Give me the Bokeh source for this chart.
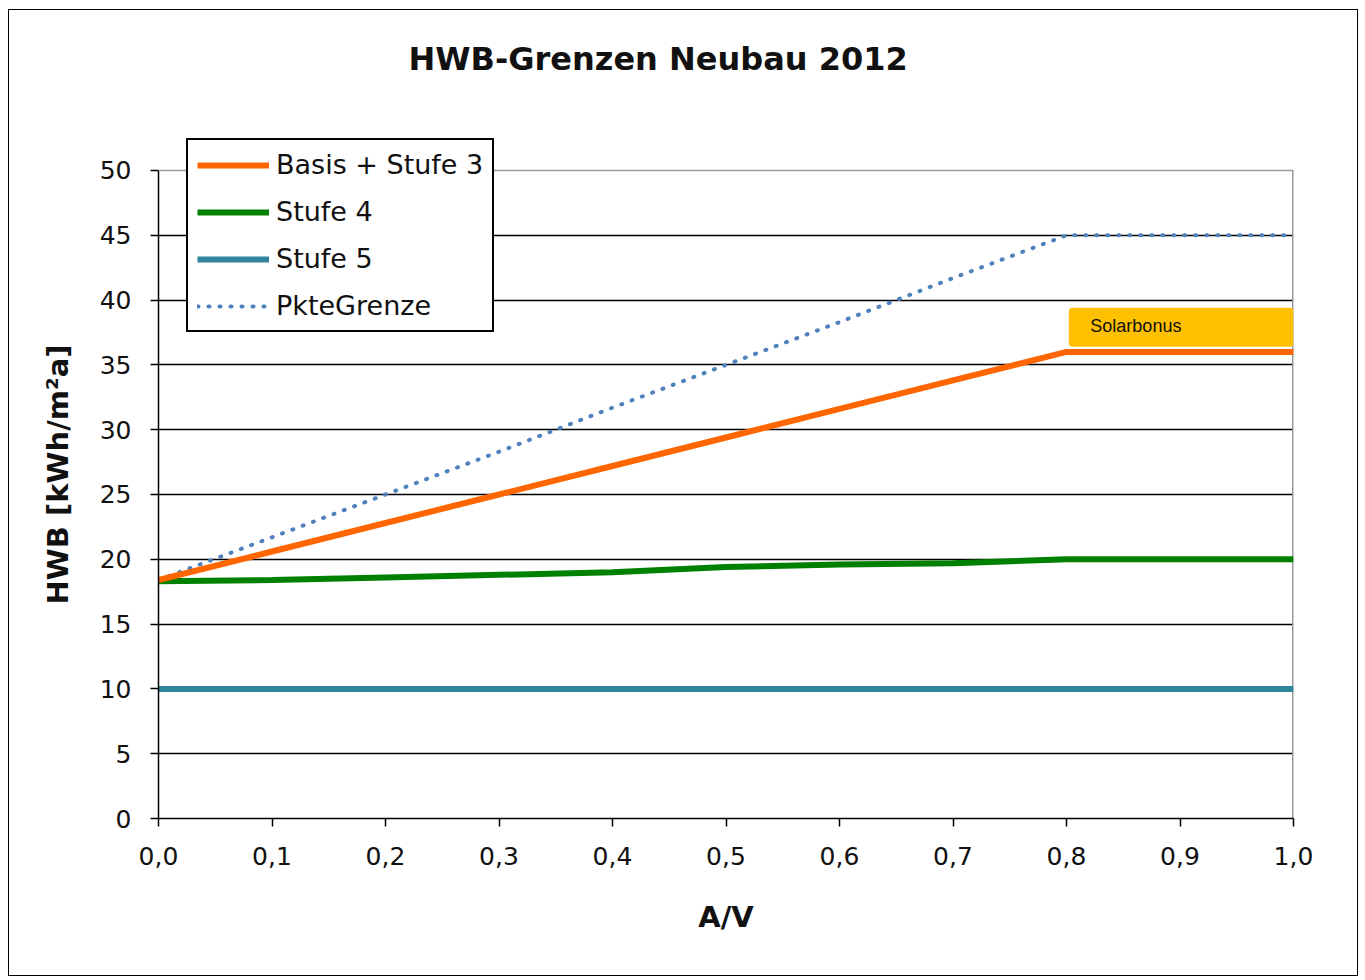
from bokeh.plotting import figure
from bokeh.models import Range1d, FixedTicker, Legend, LegendItem, Label, BoxAnnotation, Span, Title
from bokeh.embed import file_html
from bokeh.resources import INLINE

x_vals = [0.0, 0.1, 0.2, 0.3, 0.4, 0.5, 0.6, 0.7, 0.8, 0.9, 1.0]
basis_stufe3 = [18.4, 20.6, 22.8, 25.0, 27.2, 29.4, 31.6, 33.8, 36.0, 36.0, 36.0]
stufe4 = [18.3, 18.4, 18.6, 18.8, 19.0, 19.4, 19.6, 19.7, 20.0, 20.0, 20.0]
stufe5 = [10.0, 10.0, 10.0, 10.0, 10.0, 10.0, 10.0, 10.0, 10.0, 10.0, 10.0]
pkte_grenze = [18.4, 21.7, 25.0, 28.3, 31.7, 35.0, 38.3, 41.7, 45.0, 45.0, 45.0]
x_ticks = [0.0, 0.1, 0.2, 0.3, 0.4, 0.5, 0.6, 0.7, 0.8, 0.9, 1.0]
x_tick_labels = ["0,0", "0,1", "0,2", "0,3", "0,4", "0,5", "0,6", "0,7", "0,8", "0,9", "1,0"]
y_ticks = [0, 5, 10, 15, 20, 25, 30, 35, 40, 45, 50]
y_grid = [5, 10, 15, 20, 25, 30, 35, 40, 45]
y_max = 50
solar_bonus = {"left": 0.802, "right": 1.0, "bottom": 36.4, "top": 39.4}

FONT = "DejaVu Sans"

p = figure(width=1350, height=967, output_backend="svg", toolbar_location=None,
           x_range=Range1d(0, 1), y_range=Range1d(0, 53.086),
           min_border_left=149, min_border_right=66, min_border_top=120, min_border_bottom=159,
           background_fill_color="white", border_fill_color="white")
p.styles = {"border": "1px solid black", "margin-left": "8px", "margin-top": "9px"}
p.outline_line_color = None

# title
p.add_layout(Title(text="HWB-Grenzen Neubau 2012\n", align="left", offset=250, standoff=30,
                   text_font=FONT, text_font_style="bold", text_font_size="32px",
                   text_color="#111111"), "above")

# grid
p.xgrid.visible = False
p.ygrid.ticker = FixedTicker(ticks=y_grid)
p.ygrid.grid_line_color = "black"
p.ygrid.grid_line_width = 1.3

# plot-area top / right border (gray)
p.add_layout(Span(location=y_max, dimension="width", line_color="#9a9a9a", line_width=1.5))
p.segment(x0=[1.0], y0=[0], x1=[1.0], y1=[y_max], line_color="#9a9a9a", line_width=3)

# axes
for ax in (p.xaxis[0], p.yaxis[0]):
    ax.axis_line_color = "black"
    ax.axis_line_width = 1.5
    ax.major_tick_line_color = "black"
    ax.major_tick_line_width = 1.5
    ax.major_tick_in = 0
    ax.major_tick_out = 8
    ax.minor_tick_line_color = None
    ax.major_label_text_font = FONT
    ax.major_label_text_font_size = "25px"
    ax.major_label_text_color = "#111111"
    ax.axis_label_text_font = FONT
    ax.axis_label_text_font_style = "bold"
    ax.axis_label_text_font_size = "29px"
    ax.axis_label_text_color = "#111111"
p.xaxis.ticker = FixedTicker(ticks=x_ticks)
p.xaxis.major_label_overrides = {t: l for t, l in zip(x_ticks, x_tick_labels)}
p.xaxis.major_label_standoff = 20
p.xaxis.axis_label = "A/V"
p.xaxis.axis_label_standoff = 32
p.yaxis.ticker = FixedTicker(ticks=y_ticks)
p.yaxis.bounds = (0, y_max)
p.yaxis.major_label_standoff = 19
p.yaxis.axis_label = "HWB [kWh/m²a]"
p.yaxis.axis_label_standoff = 22

# lines
r_pk = p.line(x_vals, pkte_grenze, line_color="#4F81BD", line_width=4, line_dash="1 10", line_cap="round")
r_s5 = p.line(x_vals, stufe5, line_color="#31859C", line_width=6)
r_s4 = p.line(x_vals, stufe4, line_color="#008000", line_width=6)
r_b = p.line(x_vals, basis_stufe3, line_color="#FF6600", line_width=6)

# solar bonus box
p.add_layout(BoxAnnotation(left=solar_bonus["left"], right=solar_bonus["right"],
                           bottom=solar_bonus["bottom"], top=solar_bonus["top"],
                           fill_color="#FFC000", fill_alpha=1.0, line_color=None, border_radius=4))
p.add_layout(Label(x=0.821, y=38.0, text="Solarbonus", text_font="Liberation Sans",
                   text_font_size="18px", text_baseline="middle", text_align="left", text_color="#111111"))

# legend
legend = Legend(items=[
    LegendItem(label="Basis + Stufe 3", renderers=[r_b]),
    LegendItem(label="Stufe 4", renderers=[r_s4]),
    LegendItem(label="Stufe 5", renderers=[r_s5]),
    LegendItem(label="PkteGrenze", renderers=[r_pk]),
], location=(28, 486))
legend.label_text_font = FONT
legend.label_text_font_size = "27px"
legend.label_text_color = "#111111"
legend.glyph_width = 72
legend.glyph_height = 30
legend.label_height = 30
legend.spacing = 16
legend.padding = 9
legend.margin = 0
legend.label_standoff = 7
legend.border_line_color = "black"
legend.border_line_alpha = 1.0
legend.border_line_width = 2
legend.background_fill_alpha = 1.0
p.add_layout(legend, "center")

open("out.html", "w").write(file_html(p, INLINE))
